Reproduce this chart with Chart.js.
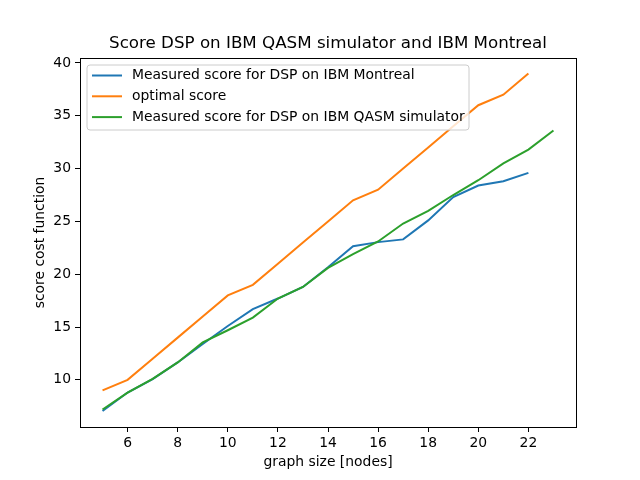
<!DOCTYPE html>
<html>
<head>
<meta charset="utf-8">
<script src="https://cdn.jsdelivr.net/npm/chart.js@4/dist/chart.umd.min.js"></script>
<style>
  html, body { margin: 0; padding: 0; background: #fff; }
  #wrap { width: 640px; height: 480px; }
</style>
</head>
<body>
<div id="wrap"><canvas id="score-chart" width="640" height="480"></canvas></div>
<script>
// dane
const montreal_x = [5, 6, 7, 8, 9, 10, 11, 12, 13, 14, 15, 16, 17, 18, 19, 20, 21, 22];
const montreal_score = [7.05, 8.8, 10.07, 11.65, 13.4, 15.1, 16.7, 17.7, 18.8, 20.67, 22.66, 23.04, 23.3, 25.1, 27.3, 28.4, 28.8, 29.6];
const optimal_x = [5, 6, 7, 8, 9, 10, 11, 12, 13, 14, 15, 16, 17, 18, 19, 20, 21, 22];
const optimal_score = [9, 10, 12, 14, 16, 18, 19, 21, 23, 25, 27, 28, 30, 32, 34, 36, 37, 39];
const qasm_x = [5, 6, 7, 8, 9, 10, 11, 12, 13, 14, 15, 16, 17, 18, 19, 20, 21, 22, 23];
const qasm_score = [7.2, 8.8, 10.1, 11.65, 13.55, 14.7, 15.9, 17.7, 18.8, 20.6, 21.9, 23.1, 24.8, 26.0, 27.5, 28.9, 30.5, 31.8, 33.6];
const x_ticks = [6, 8, 10, 12, 14, 16, 18, 20, 22];
const y_ticks = [10, 15, 20, 25, 30, 35, 40];
const series_names = ['Measured score for DSP on IBM Montreal', 'optimal score', 'Measured score for DSP on IBM QASM simulator'];
const series_colors = ['#1f77b4', '#ff7f0e', '#2ca02c'];

const FONT = 'DejaVu Sans';

const toPoints = (xs, ys) => xs.map((x, i) => ({ x: x, y: ys[i] }));

// rysuje ramke, tytul, opisy osi i legende
const decorations = {
   id: 'decorations',
   afterDraw(chart) {
      const ctx = chart.ctx;
      const a = chart.chartArea;
      ctx.save();
      ctx.strokeStyle = '#000';
      ctx.lineWidth = 1;
      ctx.strokeRect(Math.round(a.left) + 0.5, Math.round(a.top) + 0.5, Math.round(a.right - a.left), Math.round(a.bottom - a.top));

      ctx.fillStyle = '#000';
      ctx.textAlign = 'center';
      ctx.textBaseline = 'middle';
      ctx.font = '16.7px "' + FONT + '"';
      ctx.fillText('Score DSP on IBM QASM simulator and IBM Montreal', (a.left + a.right) / 2, 44);

      ctx.font = '13.9px "' + FONT + '"';
      ctx.fillText('graph size [nodes]', (a.left + a.right) / 2, 462);
      ctx.save();
      ctx.translate(40, (a.top + a.bottom) / 2);
      ctx.rotate(-Math.PI / 2);
      ctx.fillText('score cost function', 0, 0);
      ctx.restore();

      // legenda
      const lx = 87, ly = 65, lw = 382, lh = 65, r = 3;
      ctx.beginPath();
      ctx.moveTo(lx + r, ly);
      ctx.arcTo(lx + lw, ly, lx + lw, ly + lh, r);
      ctx.arcTo(lx + lw, ly + lh, lx, ly + lh, r);
      ctx.arcTo(lx, ly + lh, lx, ly, r);
      ctx.arcTo(lx, ly, lx + lw, ly, r);
      ctx.closePath();
      ctx.fillStyle = 'rgba(255,255,255,0.8)';
      ctx.fill();
      ctx.strokeStyle = '#cccccc';
      ctx.lineWidth = 1;
      ctx.stroke();
      ctx.textAlign = 'left';
      series_names.forEach((name, i) => {
         const y = 75.5 + i * 20.8;
         ctx.strokeStyle = series_colors[i];
         ctx.lineWidth = 2;
         ctx.beginPath();
         ctx.moveTo(92, y);
         ctx.lineTo(122, y);
         ctx.stroke();
         ctx.fillStyle = '#000';
         ctx.fillText(name, 132, y);
      });
      ctx.restore();
   }
};

const data = {
   datasets: [
      { label: series_names[0], data: toPoints(montreal_x, montreal_score), borderColor: series_colors[0], order: 3 },
      { label: series_names[1], data: toPoints(optimal_x, optimal_score), borderColor: series_colors[1], order: 2 },
      { label: series_names[2], data: toPoints(qasm_x, qasm_score), borderColor: series_colors[2], order: 1 }
   ]
};

const config = {
   type: 'line',
   data: data,
   options: {
      responsive: false,
      animation: false,
      layout: { padding: { left: 0, top: 58, right: 64, bottom: 0 } },
      elements: {
         line: { borderWidth: 2, tension: 0, fill: false },
         point: { radius: 0 }
      },
      plugins: { legend: { display: false }, title: { display: false }, tooltip: { enabled: false } },
      scales: {
         x: {
            type: 'linear',
            min: 4.1,
            max: 23.9,
            afterBuildTicks: (axis) => { axis.ticks = x_ticks.map(v => ({ value: v })); },
            afterFit: (axis) => { axis.height = 53; },
            border: { display: false },
            grid: { drawOnChartArea: false, drawTicks: true, tickLength: 5, color: '#000', tickWidth: 1 },
            ticks: { color: '#000', font: { family: FONT, size: 13.9 }, padding: 3, maxRotation: 0 }
         },
         y: {
            type: 'linear',
            min: 5.54,
            max: 40.47,
            afterBuildTicks: (axis) => { axis.ticks = y_ticks.map(v => ({ value: v })); },
            afterFit: (axis) => { axis.width = 80; },
            border: { display: false },
            grid: { drawOnChartArea: false, drawTicks: true, tickLength: 5, color: '#000', tickWidth: 1 },
            ticks: { color: '#000', font: { family: FONT, size: 13.9 }, padding: 4 }
         }
      }
   },
   plugins: [decorations]
};

const main_chart = new Chart(document.getElementById('score-chart'), config);
</script>
</body>
</html>
